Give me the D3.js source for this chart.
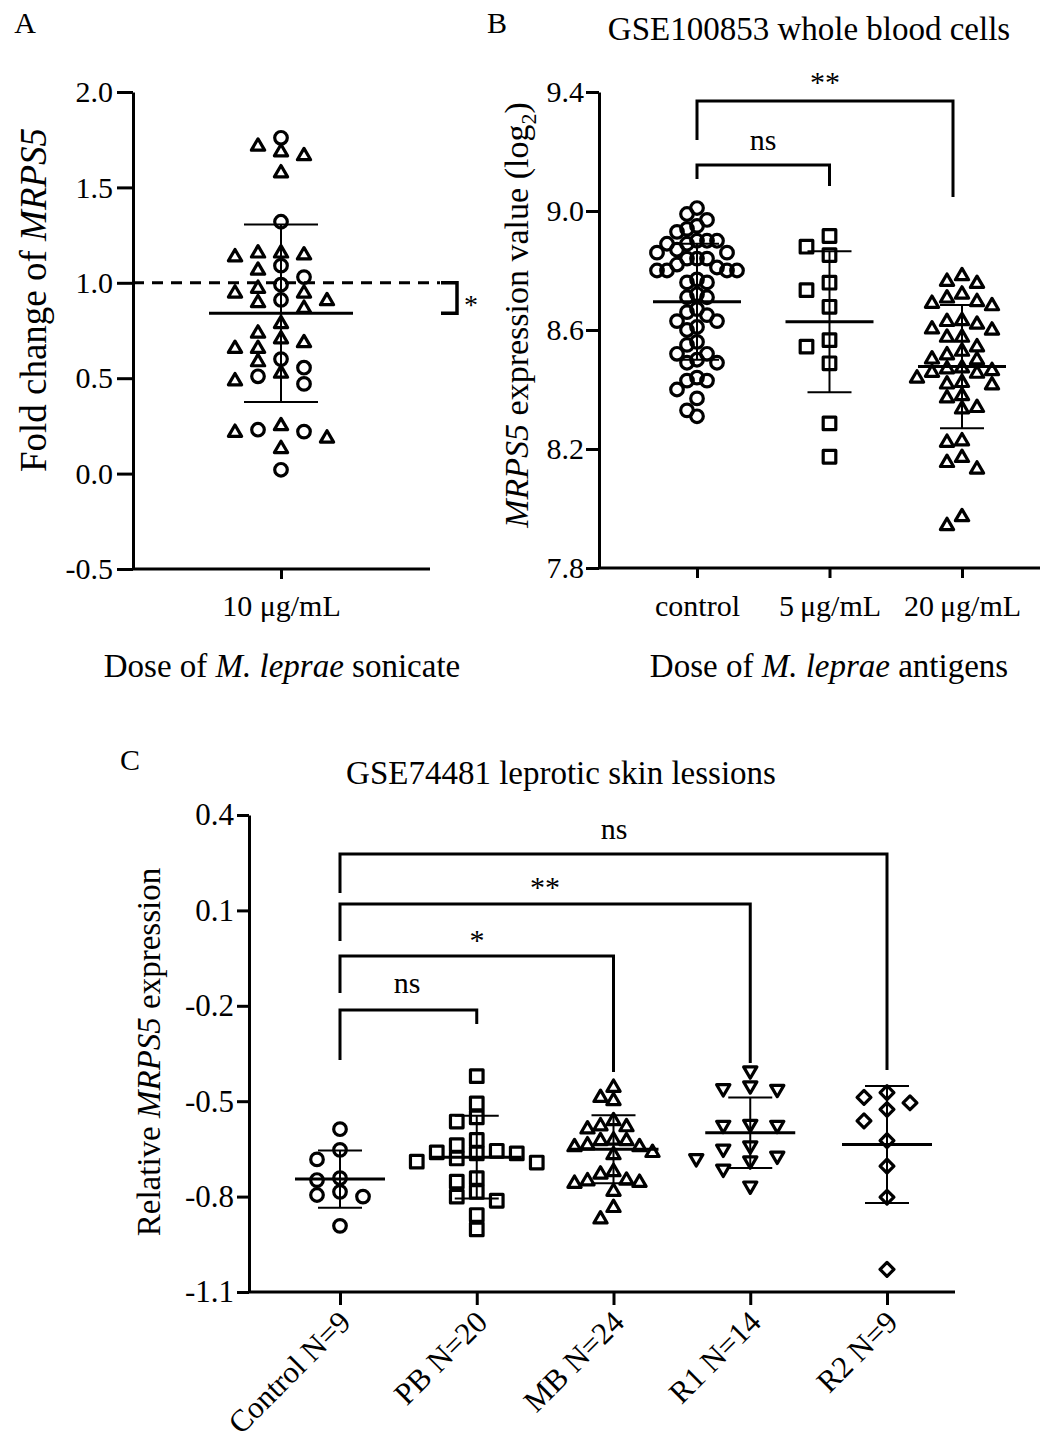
<!DOCTYPE html>
<html>
<head>
<meta charset="utf-8">
<script src="https://cdn.jsdelivr.net/npm/d3@7"></script>
<style>
  html, body { margin: 0; padding: 0; background: #fff; }
  svg { display: block; }
  text { font-family: "Liberation Serif", "Times New Roman", serif; fill: #000; }
</style>
</head>
<body>
<svg id="chart" width="1058" height="1445"></svg>
<script>
// ---------------- DATA ----------------
// Panel A: fold change of MRPS5 (10 µg/mL M. leprae sonicate)
const aCircles = [1.76, 1.32, 1.09, 1.03, 0.99, 0.91, 0.60, 0.555, 0.51, 0.47, 0.22, 0.23, 0.02];
const aTriangles = [1.72, 1.69, 1.67, 1.58, 1.16, 1.14, 1.15, 1.16, 1.07, 0.95, 0.95, 0.90, 0.87, 0.91, 0.975,
                    0.79, 0.71, 0.74, 0.69, 0.66, 0.66, 0.59, 0.53, 0.49, 0.22, 0.255, 0.19, 0.135];
const aMean = 0.84, aSD = 0.465;
const aTicks = [2.0, 1.5, 1.0, 0.5, 0.0, -0.5];
const aCategory = "10 μg/mL";

// Panel B: GSE100853 whole blood cells
const bCategories = ["control", "5\u2009μg/mL", "20\u2009μg/mL"];
const bControl = [9.01, 8.99, 8.97, 8.95, 8.94, 8.93, 8.90, 8.90, 8.90, 8.89, 8.89, 8.87, 8.86, 8.86, 8.84, 8.84, 8.84,
                  8.82, 8.81, 8.80, 8.80, 8.80, 8.80, 8.77, 8.76, 8.76, 8.72, 8.71, 8.71, 8.67, 8.66, 8.65, 8.63, 8.63,
                  8.61, 8.60, 8.56, 8.55, 8.52, 8.52, 8.50, 8.49, 8.49, 8.44, 8.43, 8.43, 8.40, 8.37, 8.33, 8.31];
const b5 = [8.916, 8.880, 8.852, 8.759, 8.734, 8.678, 8.566, 8.544, 8.488, 8.286, 8.174];
const b20 = [8.766, 8.785, 8.759, 8.723, 8.692, 8.684, 8.710, 8.698, 8.602, 8.622, 8.634, 8.606, 8.631, 8.578, 8.578,
             8.546, 8.531, 8.519, 8.505, 8.502, 8.472, 8.475, 8.460, 8.466, 8.457, 8.426, 8.441, 8.418, 8.421, 8.382,
             8.374, 8.337, 8.342, 8.225, 8.230, 8.174, 8.135, 8.157, 7.945, 7.975];
const bMeans = [8.695, 8.628, 8.477];
const bSDs = [0.195, 0.237, 0.207];
const bTicks = [9.4, 9.0, 8.6, 8.2, 7.8];

// Panel C: GSE74481 leprotic skin lessions
const cCategories = ["Control N=9", "PB N=20", "MB N=24", "R1 N=14", "R2 N=9"];
const cControl = [-0.588, -0.653, -0.683, -0.742, -0.748, -0.795, -0.785, -0.800, -0.892];
const cPB = [-0.421, -0.507, -0.564, -0.551, -0.622, -0.664, -0.656, -0.638, -0.664, -0.680, -0.661, -0.693, -0.690,
             -0.753, -0.742, -0.800, -0.785, -0.813, -0.858, -0.903];
const cMB = [-0.454, -0.496, -0.486, -0.575, -0.585, -0.578, -0.559, -0.622, -0.622, -0.620, -0.635, -0.641, -0.659,
             -0.666, -0.641, -0.719, -0.727, -0.748, -0.753, -0.746, -0.756, -0.781, -0.832, -0.868];
const cR1 = [-0.407, -0.463, -0.465, -0.454, -0.575, -0.578, -0.578, -0.643, -0.653, -0.690, -0.683, -0.675, -0.716, -0.769];
const cR2 = [-0.473, -0.488, -0.505, -0.526, -0.562, -0.624, -0.704, -0.802, -1.029];
const cMeans = [-0.745, -0.676, -0.651, -0.599, -0.636];
const cSDs = [0.090, 0.130, 0.107, 0.111, 0.184];
const cTicks = [0.4, 0.1, -0.2, -0.5, -0.8, -1.1];

// ---------------- HELPERS ----------------
const svg = d3.select("#chart");
const fmt1 = d => d3.format(".1f")(d).replace("\u2212", "-");
const TICK_FS = 30;
const MARK_HALF = 6.3, MARK_SW = 3.2;

function shapePath(shape, s) {
  switch (shape) {
    case "circle": return d3.arc()({innerRadius: 0, outerRadius: s, startAngle: 0, endAngle: 2 * Math.PI});
    case "square": return `M${-s},${-s}H${s}V${s}H${-s}Z`;
    case "triangle": return `M0,${-s * 1.05}L${s * 1.05},${s * 0.75}L${-s * 1.05},${s * 0.75}Z`;
    case "triangleDown": return `M0,${s * 1.05}L${s * 1.05},${-s * 0.75}L${-s * 1.05},${-s * 0.75}Z`;
    case "diamond": return `M0,${-s * 1.1}L${s * 1.1},0L0,${s * 1.1}L${-s * 1.1},0Z`;
  }
}

// simple slot-based swarm layout
function swarm(points, yScale, h) {
  const items = points.map(p => Object.assign({}, p, {py: yScale(p.v)}));
  const order = [...items].sort((a, b) => a.py - b.py);
  const placed = [];
  order.forEach(p => {
    for (let k = 0; k < 60; k++) {
      const slot = k === 0 ? 0 : (k % 2 === 1 ? -Math.ceil(k / 2) : Math.ceil(k / 2));
      if (!placed.some(q => q.slot === slot && Math.abs(q.py - p.py) < h)) { p.slot = slot; break; }
    }
    placed.push(p);
  });
  return items;
}

function drawPoints(g, pts, cx, y, step, half, sw) {
  g.selectAll(null).data(swarm(pts, y, 13)).join("path")
    .attr("d", d => shapePath(d.shape, half))
    .attr("transform", d => `translate(${cx + d.slot * step},${d.py})`)
    .attr("fill", "none").attr("stroke", "#000").attr("stroke-width", sw)
    .attr("stroke-linejoin", "round");
}

function drawMeanSD(g, cx, y, mean, sd, meanHalf, capHalf) {
  g.append("line").attr("x1", cx).attr("x2", cx).attr("y1", y(mean + sd)).attr("y2", y(mean - sd))
    .attr("stroke", "#000").attr("stroke-width", 2);
  [mean + sd, mean - sd].forEach(v => g.append("line").attr("x1", cx - capHalf).attr("x2", cx + capHalf)
    .attr("y1", y(v)).attr("y2", y(v)).attr("stroke", "#000").attr("stroke-width", 2));
  g.append("line").attr("x1", cx - meanHalf).attr("x2", cx + meanHalf).attr("y1", y(mean)).attr("y2", y(mean))
    .attr("stroke", "#000").attr("stroke-width", 3);
}

function styleAxis(sel, fontSize) {
  sel.select(".domain").attr("stroke", "#000").attr("stroke-width", 3);
  sel.selectAll(".tick line").attr("stroke", "#000").attr("stroke-width", 3);
  sel.selectAll(".tick text").attr("font-family", "Liberation Serif").attr("font-size", fontSize).attr("fill", "#000");
}

function text(x, y, str, size, anchor = "middle") {
  return svg.append("text").attr("x", x).attr("y", y).attr("font-size", size).attr("text-anchor", anchor).text(str);
}

// ---------------- PANEL A ----------------
{
  const yA = d3.scaleLinear().domain([-0.5, 2.0]).range([569, 92]);
  const xA = d3.scalePoint().domain([aCategory]).range([281, 281]);
  const g = svg.append("g");
  const ya = g.append("g").attr("transform", "translate(133,0)")
    .call(d3.axisLeft(yA).tickValues(aTicks).tickFormat(fmt1).tickSize(16).tickPadding(4).tickSizeOuter(0));
  styleAxis(ya, TICK_FS);
  const xa = g.append("g").attr("transform", "translate(0,569)")
    .call(d3.axisBottom(xA).tickSize(10).tickPadding(16).tickSizeOuter(0));
  styleAxis(xa, TICK_FS);
  xa.select(".domain").attr("d", "M133,0H430");

  // dashed reference line at 1.0
  g.append("line").attr("x1", 133).attr("x2", 440).attr("y1", yA(1)).attr("y2", yA(1))
    .attr("stroke", "#000").attr("stroke-width", 3).attr("stroke-dasharray", "11,8");
  // significance bracket
  g.append("path").attr("d", `M441,${yA(1)}H457V${yA(aMean)}H441`).attr("fill", "none")
    .attr("stroke", "#000").attr("stroke-width", 3.5);
  text(471, yA(0.905) + 13, "*", 28);

  const cx = xA(aCategory);
  const pts = aCircles.map(v => ({v, shape: "circle"})).concat(aTriangles.map(v => ({v, shape: "triangle"})));
  drawPoints(g, pts, cx, yA, 23, MARK_HALF, MARK_SW);
  drawMeanSD(g, cx, yA, aMean, aSD, 72, 37);

  text(25, 33, "A", 30);
  const t = svg.append("text").attr("x", 282).attr("y", 677).attr("font-size", 33).attr("text-anchor", "middle");
  t.append("tspan").text("Dose of ");
  t.append("tspan").attr("font-style", "italic").text("M. leprae");
  t.append("tspan").text(" sonicate");
  const yl = svg.append("text").attr("transform", "translate(46,300) rotate(-90)").attr("font-size", 37)
    .attr("text-anchor", "middle");
  yl.append("tspan").text("Fold change of ");
  yl.append("tspan").attr("font-style", "italic").text("MRPS5");
}

// ---------------- PANEL B ----------------
{
  const yB = d3.scaleLinear().domain([7.8, 9.4]).range([568, 92]);
  const xB = d3.scalePoint().domain(bCategories).range([697, 962]);
  const g = svg.append("g");
  const yb = g.append("g").attr("transform", "translate(599,0)")
    .call(d3.axisLeft(yB).tickValues(bTicks).tickFormat(fmt1).tickSize(13).tickPadding(2).tickSizeOuter(0));
  styleAxis(yb, TICK_FS);
  const xb = g.append("g").attr("transform", "translate(0,568)")
    .call(d3.axisBottom(xB).tickSize(10).tickPadding(17).tickSizeOuter(0));
  styleAxis(xb, TICK_FS);
  xb.select(".domain").attr("d", "M599,0H1040");

  const series = [
    {vals: bControl, shape: "circle", step: 10},
    {vals: b5, shape: "square", step: 23},
    {vals: b20, shape: "triangle", step: 15}
  ];
  series.forEach((s, i) => {
    const cx = xB(bCategories[i]);
    drawPoints(g, s.vals.map(v => ({v, shape: s.shape})), cx, yB, s.step, MARK_HALF, MARK_SW);
    drawMeanSD(g, cx, yB, bMeans[i], bSDs[i], 44, 22);
  });

  // brackets
  const c0 = xB(bCategories[0]), c1 = xB(bCategories[1]), c2 = xB(bCategories[2]);
  g.append("path").attr("d", `M${c0},140V101H${c2 - 9}V197`).attr("fill", "none").attr("stroke", "#000").attr("stroke-width", 3);
  g.append("path").attr("d", `M${c0},179V165H${c1}V186`).attr("fill", "none").attr("stroke", "#000").attr("stroke-width", 3);
  text(825, 92, "**", 30);
  text(763, 150, "ns", 30);

  text(497, 33, "B", 30);
  text(809, 40, "GSE100853 whole blood cells", 33);
  const t = svg.append("text").attr("x", 829).attr("y", 677).attr("font-size", 33).attr("text-anchor", "middle");
  t.append("tspan").text("Dose of ");
  t.append("tspan").attr("font-style", "italic").text("M. leprae");
  t.append("tspan").text(" antigens");
  const yl = svg.append("text").attr("transform", "translate(528,315) rotate(-90)").attr("font-size", 34)
    .attr("text-anchor", "middle");
  yl.append("tspan").attr("font-style", "italic").text("MRPS5");
  yl.append("tspan").text(" expression value (log");
  yl.append("tspan").attr("font-size", 22).attr("dy", 8).text("2");
  yl.append("tspan").attr("dy", -8).text(")");
}

// ---------------- PANEL C ----------------
{
  const yC = d3.scaleLinear().domain([-1.1, 0.4]).range([1292, 815]);
  const xC = d3.scalePoint().domain(cCategories).range([340, 887]);
  const g = svg.append("g");
  const yc = g.append("g").attr("transform", "translate(249,0)")
    .call(d3.axisLeft(yC).tickValues(cTicks).tickFormat(fmt1).tickSize(12).tickPadding(3).tickSizeOuter(0));
  styleAxis(yc, TICK_FS + 1);
  const xc = g.append("g").attr("transform", "translate(0,1292)")
    .call(d3.axisBottom(xC).tickSize(13).tickSizeOuter(0));
  styleAxis(xc, TICK_FS + 1);
  xc.select(".domain").attr("d", "M249,0H955");
  xc.selectAll(".tick text").attr("text-anchor", "end").attr("dy", 0).attr("y", 0)
    .attr("transform", "translate(12,32) rotate(-45)");

  const series = [
    {vals: cControl, shape: "circle", step: 23},
    {vals: cPB, shape: "square", step: 20},
    {vals: cMB, shape: "triangle", step: 13},
    {vals: cR1, shape: "triangleDown", step: 27},
    {vals: cR2, shape: "diamond", step: 23}
  ];
  series.forEach((s, i) => {
    const cx = xC(cCategories[i]);
    drawPoints(g, s.vals.map(v => ({v, shape: s.shape})), cx, yC, s.step, MARK_HALF, MARK_SW);
    drawMeanSD(g, cx, yC, cMeans[i], cSDs[i], 45, 22);
  });

  const c = cCategories.map(d => xC(d));
  const br = (x2, yTop, yLeft, yRight) =>
    g.append("path").attr("d", `M${c[0]},${yLeft}V${yTop}H${x2}V${yRight}`).attr("fill", "none")
      .attr("stroke", "#000").attr("stroke-width", 3);
  br(c[4], 854, 893, 1070);
  br(c[3], 904, 941, 1063);
  br(c[2], 956, 993, 1072);
  br(c[1], 1010, 1060, 1024);
  text(614, 839, "ns", 30);
  text(545, 897, "**", 30);
  text(477, 950, "*", 30);
  text(407, 993, "ns", 30);

  text(130, 770, "C", 30);
  text(561, 784, "GSE74481 leprotic skin lessions", 33);
  const yl = svg.append("text").attr("transform", "translate(160,1052) rotate(-90)").attr("font-size", 33)
    .attr("text-anchor", "middle");
  yl.append("tspan").text("Relative ");
  yl.append("tspan").attr("font-style", "italic").text("MRPS5");
  yl.append("tspan").text(" expression");
}
</script>
</body>
</html>
